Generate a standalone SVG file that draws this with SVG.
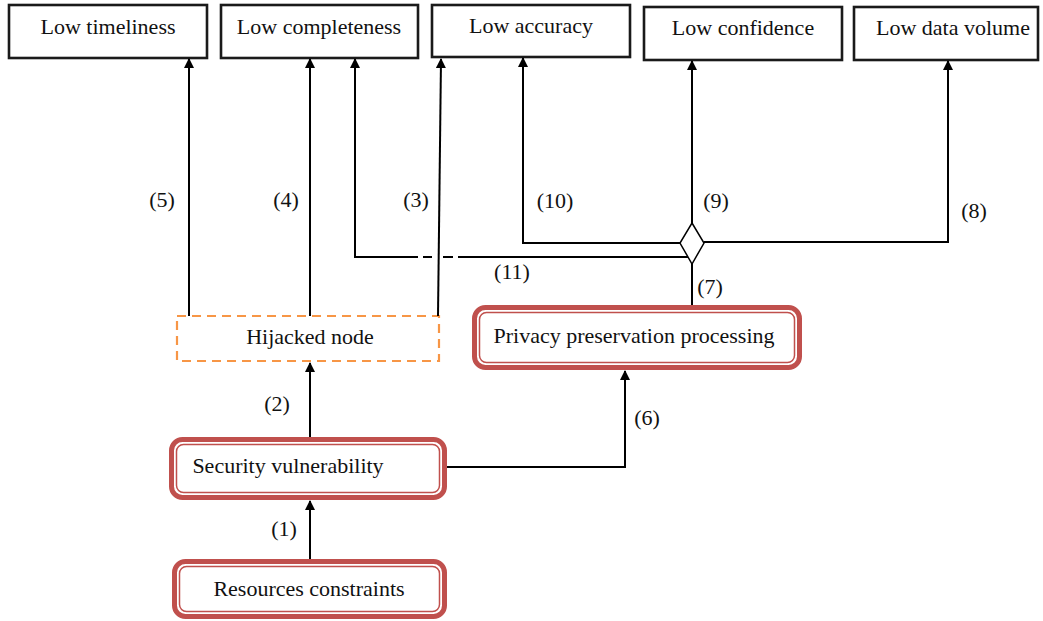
<svg xmlns="http://www.w3.org/2000/svg" width="1043" height="621" viewBox="0 0 1043 621">
  <style>
    .t { font-family: "Liberation Serif", "Times New Roman", serif; font-size: 22px; fill: #111; text-anchor: middle; }
    .box { fill: #fff; stroke: #1a1a1a; stroke-width: 2.6; }
    .outer { fill: #fff; stroke: #C0504D; stroke-width: 5; }
    .inner { fill: none; stroke: #C0504D; stroke-width: 1.5; }
    .dash { fill: #fff; stroke: #F79646; stroke-width: 2.2; stroke-dasharray: 9 6; }
    .c { fill: none; stroke: #000; stroke-width: 2; }
    .a { marker-end: url(#arr); }
  </style>
  <defs>
    <marker id="arr" viewBox="0 0 10 10" refX="9" refY="5" markerWidth="5" markerHeight="5" orient="auto" markerUnits="strokeWidth">
      <path d="M0 0 L10 5 L0 10 Z" fill="#000"/>
    </marker>
  </defs>

  <!-- outcome boxes -->
  <g id="low-timeliness">
    <rect class="box" x="9" y="5" width="198" height="53"/>
    <text class="t" x="108" y="34">Low timeliness</text>
  </g>
  <g id="low-completeness">
    <rect class="box" x="221" y="5" width="197" height="53"/>
    <text class="t" x="319" y="34">Low completeness</text>
  </g>
  <g id="low-accuracy">
    <rect class="box" x="432" y="5" width="198" height="52"/>
    <text class="t" x="531" y="33">Low accuracy</text>
  </g>
  <g id="low-confidence">
    <rect class="box" x="644" y="7" width="198" height="53"/>
    <text class="t" x="743" y="35">Low confidence</text>
  </g>
  <g id="low-data-volume">
    <rect class="box" x="854" y="7" width="184" height="53"/>
    <text class="t" x="953" y="35">Low data volume</text>
  </g>

  <!-- cause nodes -->
  <g id="hijacked-node">
    <rect class="dash" x="177" y="316" width="262" height="45"/>
    <text class="t" x="310" y="344">Hijacked node</text>
  </g>
  <g id="privacy-preservation">
    <rect class="outer" x="474.5" y="307.5" width="325" height="60" rx="11"/>
    <rect class="inner" x="479.5" y="312.5" width="315" height="50" rx="7"/>
    <text class="t" x="634" y="343">Privacy preservation processing</text>
  </g>
  <g id="security-vulnerability">
    <rect class="outer" x="171.5" y="439.5" width="273" height="58" rx="11"/>
    <rect class="inner" x="176.5" y="444.5" width="263" height="48" rx="7"/>
    <text class="t" x="288" y="473">Security vulnerability</text>
  </g>
  <g id="resources-constraints">
    <rect class="outer" x="174.5" y="561.5" width="270" height="55" rx="11"/>
    <rect class="inner" x="179.5" y="566.5" width="260" height="45" rx="7"/>
    <text class="t" x="309" y="596">Resources constraints</text>
  </g>

  <!-- connectors -->
  <g id="connectors">
    <path class="c a" d="M310 559 V501"/>
    <path class="c a" d="M310 437 V363"/>
    <path class="c a" d="M447 467 H625 V371"/>
    <path class="c a" d="M189 316 V59"/>
    <path class="c a" d="M310 316 V59"/>
    <path class="c a" d="M438 316 L441 59"/>
    <path class="c" d="M692 305 V264"/>
    <path class="c a" d="M692 223 V61"/>
    <path class="c a" d="M680 243 H523 V58"/>
    <path class="c a" d="M704 242 H948 V61"/>
    <path class="c a" d="M688 257 H458 M453 257 H443 M432 257 H423 M418 257 H355 V59"/>
    <polygon points="692,223 704,243 692,264 680,243" fill="#fff" stroke="#000" stroke-width="1.5"/>
  </g>

  <!-- connector labels -->
  <g id="labels">
    <text class="t" x="162" y="207">(5)</text>
    <text class="t" x="286" y="207">(4)</text>
    <text class="t" x="416" y="207">(3)</text>
    <text class="t" x="555" y="208">(10)</text>
    <text class="t" x="716" y="208">(9)</text>
    <text class="t" x="974" y="218">(8)</text>
    <text class="t" x="512" y="279">(11)</text>
    <text class="t" x="710" y="294">(7)</text>
    <text class="t" x="277" y="411">(2)</text>
    <text class="t" x="647" y="425">(6)</text>
    <text class="t" x="284" y="536">(1)</text>
  </g>
</svg>
